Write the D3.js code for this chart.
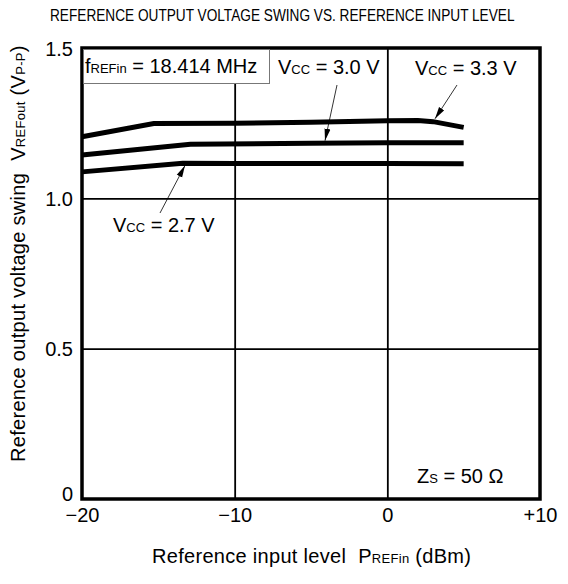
<!DOCTYPE html>
<html>
<head>
<meta charset="utf-8">
<script src="https://cdn.jsdelivr.net/npm/d3@7"></script>
<style>
  body { margin: 0; background: #fff; }
  svg { font-family: "Liberation Sans", Arial, sans-serif; }
</style>
</head>
<body>
<div id="chart"></div>
<script>
// data
var vcc33X = [-20, -15.3, -10, -5, 0, 2, 3, 5];
var vcc33Y = [1.205, 1.249, 1.250, 1.253, 1.258, 1.259, 1.255, 1.236];
var vcc30X = [-20, -12.9, -5, 0, 5];
var vcc30Y = [1.144, 1.180, 1.183, 1.185, 1.185];
var vcc27X = [-20, -13.4, -10, 0, 5];
var vcc27Y = [1.088, 1.117, 1.116, 1.116, 1.115];

var xTicks = [-20, -10, 0, 10];
var xTickLabels = ["\u221220", "\u221210", "0", "+10"];
var yTicks = [0, 0.5, 1.0, 1.5];
var yTickLabels = ["0", "0.5", "1.0", "1.5"];

var W = 568, H = 584;
var margin = { top: 48, right: 28, bottom: 85, left: 82 };
var FS = 20, SUB = 13;

var svg = d3.select("#chart").append("svg")
	.attr("width", W)
	.attr("height", H);

var x = d3.scaleLinear().domain([-20, 10]).range([margin.left, W - margin.right]);
var y = d3.scaleLinear().domain([0, 1.5]).range([H - margin.bottom, margin.top]);

// gridlines
svg.append("g")
	.attr("transform", "translate(0," + y(0) + ")")
	.call(d3.axisBottom(x).tickValues([-10, 0]).tickSize(-(y(0) - y(1.5))).tickFormat(""))
	.call(g => g.select(".domain").remove())
	.selectAll("line").attr("stroke", "#000").attr("stroke-width", 1.8);

svg.append("g")
	.attr("transform", "translate(" + x(-20) + ",0)")
	.call(d3.axisLeft(y).tickValues([0.5, 1.0]).tickSize(-(x(10) - x(-20))).tickFormat(""))
	.call(g => g.select(".domain").remove())
	.selectAll("line").attr("stroke", "#000").attr("stroke-width", 1.8);

// tick labels
var xAxis = d3.axisBottom(x)
	.tickValues(xTicks)
	.tickSize(0)
	.tickPadding(9)
	.tickFormat((d, i) => xTickLabels[i]);
svg.append("g")
	.attr("transform", "translate(0," + y(0) + ")")
	.call(xAxis)
	.call(g => g.select(".domain").remove())
	.selectAll("text").attr("font-size", FS).attr("font-family", "Liberation Sans, Arial, sans-serif").attr("fill", "#000");

var yAxis = d3.axisLeft(y)
	.tickValues(yTicks)
	.tickSize(0)
	.tickPadding(9)
	.tickFormat((d, i) => yTickLabels[i]);
svg.append("g")
	.attr("transform", "translate(" + x(-20) + ",0)")
	.call(yAxis)
	.call(g => g.select(".domain").remove())
	.selectAll("text")
	.attr("font-size", FS)
	.attr("font-family", "Liberation Sans, Arial, sans-serif")
	.attr("fill", "#000")
	.attr("dy", d => d === 0 ? "0.05em" : "0.36em");

// curves
var line = d3.line().x(d => x(d[0])).y(d => y(d[1]));
var series = [
	d3.zip(vcc33X, vcc33Y),
	d3.zip(vcc30X, vcc30Y),
	d3.zip(vcc27X, vcc27Y)
];
svg.selectAll(".curve")
	.data(series)
	.enter().append("path")
	.attr("class", "curve")
	.attr("d", line)
	.attr("fill", "none")
	.attr("stroke", "#000")
	.attr("stroke-width", 5);

// frame
svg.append("rect")
	.attr("x", x(-20))
	.attr("y", y(1.5))
	.attr("width", x(10) - x(-20))
	.attr("height", y(0) - y(1.5))
	.attr("fill", "none")
	.attr("stroke", "#000")
	.attr("stroke-width", 3.5);

// frequency box
svg.append("rect")
	.attr("x", x(-20) + 1.5)
	.attr("y", y(1.5) + 1.5)
	.attr("width", 186)
	.attr("height", 34)
	.attr("fill", "#fff")
	.attr("stroke", "#777")
	.attr("stroke-width", 1);

function subText(xp, yp, main, sub, rest) {
	var t = svg.append("text")
		.attr("x", xp)
		.attr("y", yp)
		.attr("font-size", FS)
		.attr("fill", "#000");
	t.append("tspan").text(main);
	t.append("tspan").attr("font-size", SUB).text(sub);
	t.append("tspan").text(rest);
	return t;
}

subText(85, 73, "f", "REFin", " = 18.414 MHz");
subText(278, 74, "V", "CC", " = 3.0 V");
subText(415, 75, "V", "CC", " = 3.3 V");
subText(113, 232, "V", "CC", " = 2.7 V");
subText(417, 483, "Z", "S", " = 50 \u03A9");

// arrows
svg.append("defs").append("marker")
	.attr("id", "head")
	.attr("viewBox", "0 0 12 8")
	.attr("refX", 12)
	.attr("refY", 4)
	.attr("markerWidth", 12)
	.attr("markerHeight", 8)
	.attr("markerUnits", "userSpaceOnUse")
	.attr("orient", "auto")
	.append("path")
	.attr("d", "M0,1 L12,4 L0,7 z")
	.attr("fill", "#000");

var arrows = [
	[337, 85, 325, y(1.185) - 2],
	[457, 85, 435, y(1.258) - 2],
	[160, 213, 185, y(1.116) + 2]
];
svg.selectAll(".arrow")
	.data(arrows)
	.enter().append("line")
	.attr("x1", d => d[0]).attr("y1", d => d[1])
	.attr("x2", d => d[2]).attr("y2", d => d[3])
	.attr("stroke", "#000")
	.attr("stroke-width", 0.8)
	.attr("marker-end", "url(#head)");

// title, squeezed to the condensed width of the reference
var title = svg.append("text")
	.attr("font-size", 16)
	.attr("font-family", "Liberation Sans, Arial, sans-serif")
	.attr("fill", "#000")
	.text("REFERENCE OUTPUT VOLTAGE SWING VS. REFERENCE INPUT LEVEL");
var tw = title.node().getComputedTextLength();
title.attr("transform", "translate(50,21) scale(" + (465 / tw) + ",1)");

// x axis title
var xt = svg.append("text")
	.attr("x", 152)
	.attr("y", 563)
	.attr("font-size", FS)
	.attr("letter-spacing", 0.3)
	.attr("fill", "#000");
xt.append("tspan").text("Reference input level");
xt.append("tspan").attr("dx", 12).text("P");
xt.append("tspan").attr("font-size", SUB).text("REFin");
xt.append("tspan").text(" (dBm)");

// y axis title
var yt = svg.append("text")
	.attr("transform", "translate(25,462) rotate(-90)")
	.attr("font-size", FS)
	.attr("letter-spacing", 0.3)
	.attr("fill", "#000");
yt.append("tspan").text("Reference output voltage swing");
yt.append("tspan").attr("dx", 12).text("V");
yt.append("tspan").attr("font-size", SUB).text("REFout");
yt.append("tspan").text(" (V");
yt.append("tspan").attr("font-size", SUB).text("P-P");
yt.append("tspan").text(")");
</script>
</body>
</html>
